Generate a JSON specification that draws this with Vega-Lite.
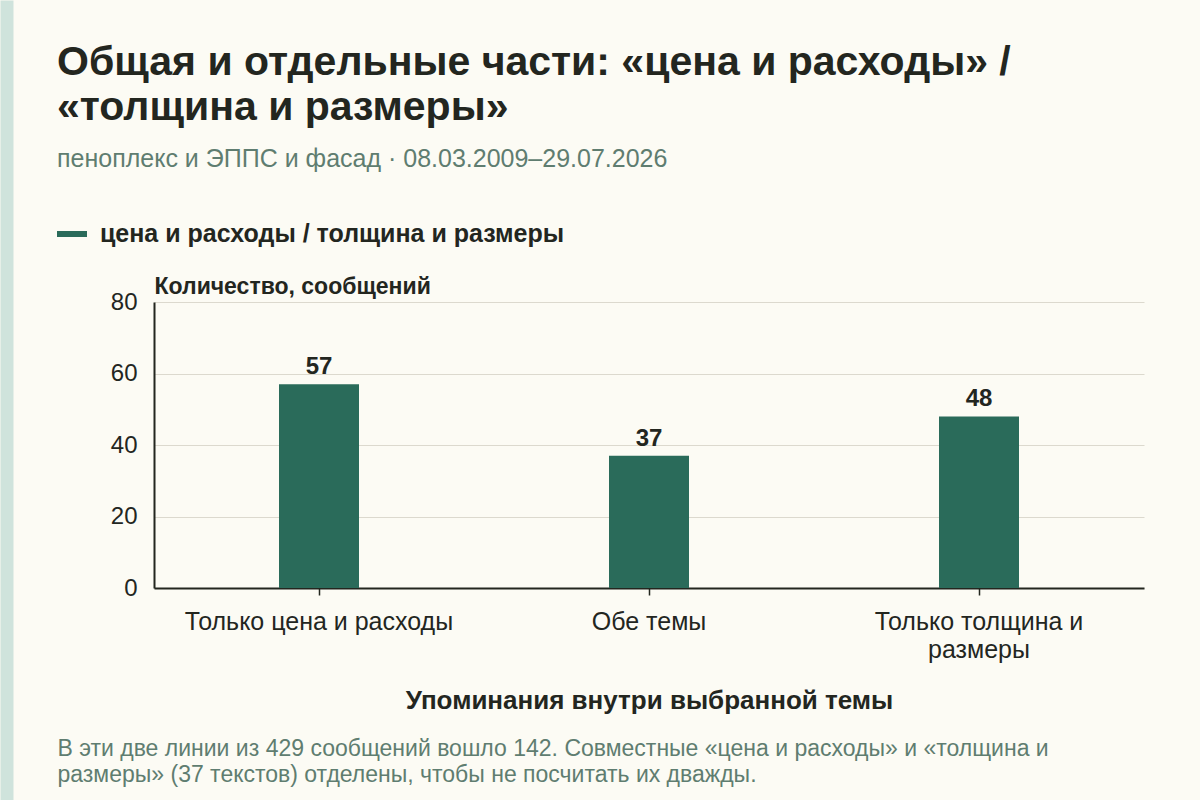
{
  "$schema": "https://vega.github.io/schema/vega-lite/v6.json",
  "autosize": "none",
  "width": 990,
  "height": 286,
  "padding": {"left": 154, "top": 302, "right": 56, "bottom": 212},
  "background": "#fcfbf4",
  "config": {
    "font": "Liberation Sans",
    "view": {"stroke": null}
  },
  "title": {
    "text": ["Общая и отдельные части: «цена и расходы» /", "«толщина и размеры»"],
    "subtitle": "пеноплекс и ЭППС и фасад · 08.03.2009–29.07.2026",
    "anchor": "start",
    "frame": "group",
    "dx": -97,
    "fontSize": 41,
    "lineHeight": 45,
    "fontWeight": "bold",
    "color": "#23261f",
    "subtitleFontSize": 25,
    "subtitleColor": "#5f7d70",
    "subtitlePadding": 18,
    "offset": 46
  },
  "data": {
    "values": [
      {"cat": "Только цена и расходы", "value": 57, "series": "цена и расходы / толщина и размеры"},
      {"cat": "Обе темы", "value": 37, "series": "цена и расходы / толщина и размеры"},
      {"cat": "Только толщина и размеры", "value": 48, "series": "цена и расходы / толщина и размеры"}
    ]
  },
  "layer": [
    {
      "layer": [
        {
          "mark": {"type": "bar", "width": 80, "color": "#2a6b5a"},
          "encoding": {
            "x": {
              "field": "cat",
              "type": "nominal",
              "sort": null,
              "scale": {"paddingInner": 0, "paddingOuter": 0},
              "axis": {
                "title": "Упоминания внутри выбранной темы",
                "titleFontSize": 26,
                "titleFontWeight": "bold",
                "titleColor": "#23261f",
                "titlePadding": 25,
                "labelAngle": 0,
                "labelFontSize": 25,
                "labelColor": "#23261f",
                "labelPadding": 14,
                "labelLineHeight": 28,
                "labelBaseline": "top",
                "labelLimit": 400,
                "labelExpr": "datum.label == 'Только толщина и размеры' ? ['Только толщина и', 'размеры'] : datum.label",
                "domainColor": "#23261f",
                "domainWidth": 2,
                "tickColor": "#23261f",
                "tickSize": 7,
                "tickWidth": 1.5,
                "grid": false
              }
            },
            "y": {
              "field": "value",
              "type": "quantitative",
              "scale": {"domain": [0, 80]},
              "axis": {
                "values": [0, 20, 40, 60, 80],
                "title": "Количество, сообщений",
                "titleAngle": 0,
                "titleAlign": "left",
                "titleBaseline": "alphabetic",
                "titleX": 0,
                "titleY": -9,
                "titleFontSize": 23,
                "titleFontWeight": "bold",
                "titleColor": "#23261f",
                "labelFontSize": 24,
                "labelColor": "#23261f",
                "labelPadding": 17,
                "ticks": false,
                "domainColor": "#23261f",
                "domainWidth": 2,
                "grid": true,
                "gridColor": "#dcd9ce",
                "gridWidth": 1
              }
            },
            "color": {
              "field": "series",
              "type": "nominal",
              "scale": {"range": ["#2a6b5a"]},
              "legend": {
                "title": null,
                "orient": "none",
                "legendX": -97,
                "legendY": -83,
                "symbolType": "M-1,-0.2H1V0.2H-1Z",
                "symbolSize": 900,
                "symbolStrokeWidth": 0,
                "symbolOpacity": 1,
                "labelFontSize": 25,
                "labelFontWeight": "bold",
                "labelColor": "#23261f",
                "labelOffset": 13,
                "labelLimit": 800
              }
            }
          }
        },
        {
          "mark": {"type": "text", "baseline": "bottom", "dy": -5, "fontSize": 24, "fontWeight": "bold", "color": "#23261f"},
          "encoding": {
            "x": {"field": "cat", "type": "nominal", "sort": null},
            "y": {"field": "value", "type": "quantitative"},
            "text": {"field": "value", "type": "quantitative"}
          }
        }
      ]
    },
    {
      "mark": {"type": "point", "opacity": 0},
      "encoding": {
        "x": {
          "field": "cat",
          "type": "nominal",
          "sort": null,
          "axis": {
            "orient": "bottom",
            "domain": false,
            "ticks": false,
            "labels": false,
            "grid": false,
            "title": ["В эти две линии из 429 сообщений вошло 142. Совместные «цена и расходы» и «толщина и", "размеры» (37 текстов) отделены, чтобы не посчитать их дважды."],
            "titleX": -97,
            "titleY": 167,
            "titleAlign": "left",
            "titleBaseline": "alphabetic",
            "titleAngle": 0,
            "titleFontSize": 23,
            "titleFontWeight": "normal",
            "titleLineHeight": 26,
            "titleColor": "#5f7d70"
          }
        },
        "y": {
          "field": "value",
          "type": "quantitative",
          "scale": {"domain": [0, 80], "range": [498, -302]},
          "axis": {
            "orient": "left",
            "offset": 147.5,
            "domainColor": "#cfe3dc",
            "domainWidth": 13,
            "ticks": false,
            "labels": false,
            "grid": false,
            "title": null
          }
        }
      }
    }
  ],
  "resolve": {
    "scale": {"x": "independent", "y": "independent"},
    "axis": {"x": "independent", "y": "independent"}
  }
}
